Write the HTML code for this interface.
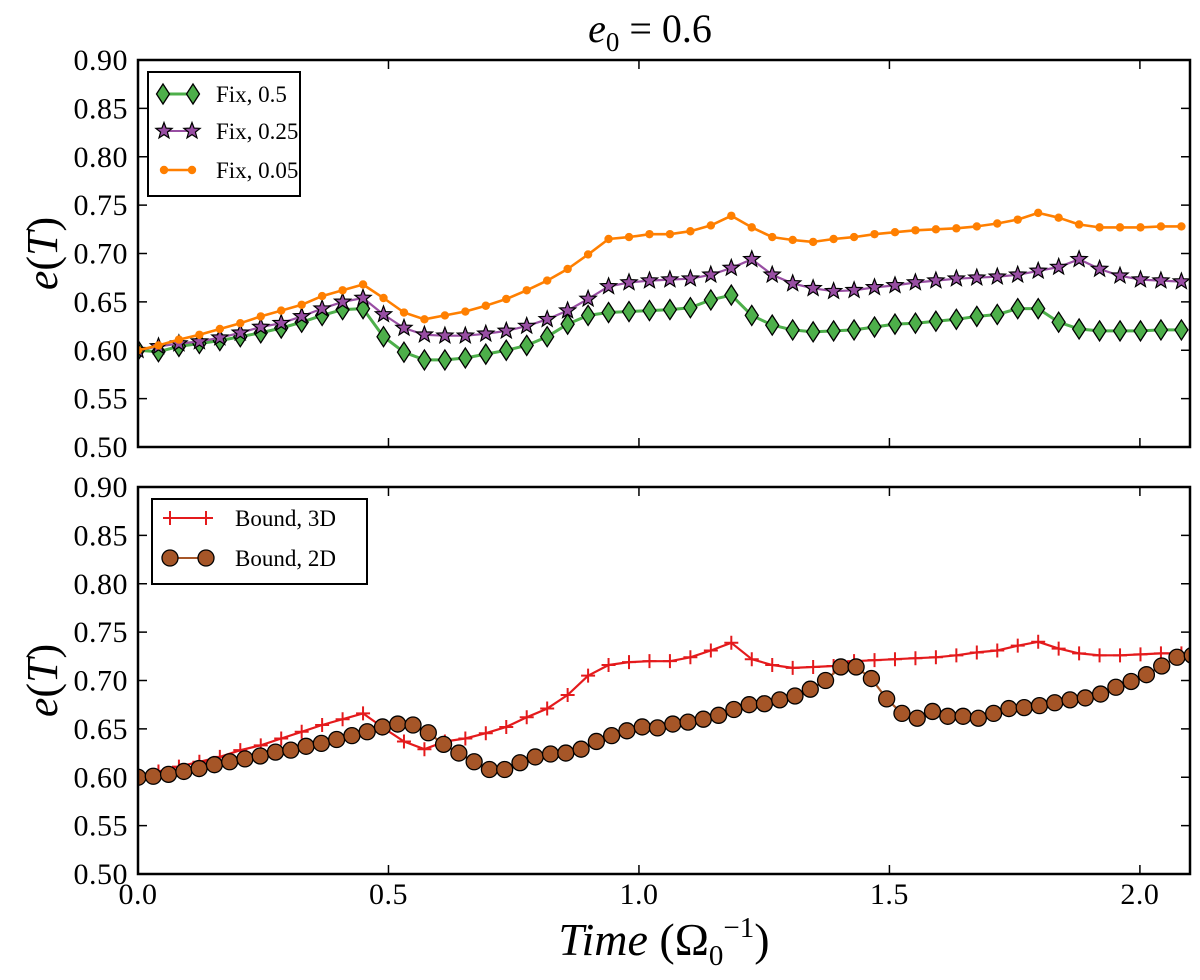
<!DOCTYPE html>
<html><head><meta charset="utf-8"><style>
html,body{margin:0;padding:0;background:#fff;}
svg{display:block;font-family:"Liberation Serif",serif;}
</style></head><body>
<svg id="chart" width="1200" height="980" viewBox="0 0 1200 980" xmlns="http://www.w3.org/2000/svg"></svg>
<script>
// ---- data ----
const dtTop = 0.04084;
const dtBound3D = 0.04084;
const dtBound2D = 0.0305;
const fix05 = [0.600,0.5985,0.604,0.607,0.610,0.614,0.618,0.623,0.629,0.636,0.642,0.643,0.614,0.598,0.590,0.590,0.592,0.596,0.600,0.605,0.614,0.627,0.636,0.639,0.640,0.641,0.642,0.644,0.652,0.657,0.636,0.626,0.621,0.619,0.620,0.621,0.624,0.627,0.628,0.630,0.632,0.635,0.637,0.643,0.643,0.629,0.622,0.620,0.620,0.620,0.621,0.621];
const fix025 = [0.600,0.604,0.607,0.609,0.613,0.618,0.624,0.628,0.635,0.643,0.650,0.654,0.637,0.623,0.616,0.615,0.615,0.617,0.620,0.625,0.632,0.641,0.653,0.666,0.670,0.672,0.673,0.674,0.678,0.685,0.694,0.678,0.669,0.664,0.661,0.662,0.665,0.667,0.670,0.672,0.674,0.675,0.676,0.678,0.682,0.686,0.694,0.684,0.677,0.673,0.672,0.671];
const fix005 = [0.600,0.605,0.611,0.616,0.622,0.628,0.635,0.641,0.647,0.656,0.662,0.668,0.654,0.639,0.632,0.636,0.640,0.646,0.653,0.662,0.672,0.684,0.699,0.715,0.717,0.720,0.720,0.723,0.729,0.739,0.727,0.717,0.714,0.712,0.715,0.717,0.720,0.722,0.724,0.725,0.726,0.728,0.731,0.735,0.742,0.737,0.730,0.727,0.727,0.727,0.728,0.728];
const bound3D = [0.601,0.606,0.611,0.616,0.621,0.628,0.633,0.640,0.647,0.654,0.660,0.666,0.651,0.637,0.629,0.637,0.640,0.6455,0.652,0.662,0.671,0.685,0.705,0.716,0.719,0.720,0.720,0.724,0.731,0.739,0.722,0.716,0.713,0.714,0.715,0.720,0.721,0.722,0.723,0.724,0.726,0.729,0.731,0.736,0.740,0.733,0.728,0.726,0.726,0.727,0.728,0.728];
const bound2D = [0.600,0.601,0.603,0.606,0.609,0.613,0.616,0.619,0.622,0.626,0.628,0.632,0.635,0.639,0.643,0.647,0.652,0.655,0.654,0.646,0.634,0.625,0.616,0.608,0.608,0.615,0.621,0.624,0.625,0.629,0.637,0.643,0.648,0.652,0.651,0.655,0.657,0.660,0.664,0.670,0.675,0.676,0.680,0.684,0.691,0.700,0.714,0.714,0.702,0.681,0.666,0.661,0.668,0.663,0.663,0.661,0.666,0.671,0.672,0.674,0.677,0.680,0.682,0.686,0.693,0.699,0.706,0.715,0.724,0.726];
const yTicks = ["0.50","0.55","0.60","0.65","0.70","0.75","0.80","0.85","0.90"];
const xTicks = ["0.0","0.5","1.0","1.5","2.0"];

// ---- layout ----
const NS = "http://www.w3.org/2000/svg";
const svg = document.getElementById("chart");
const X0 = 138, X1 = 1190, XMAX = 2.1;
const panels = [{top:60,bottom:447},{top:487,bottom:874}];
const xs = t => X0 + t/XMAX*(X1-X0);
const ysFor = p => v => p.bottom - (v-0.5)/0.4*(p.bottom-p.top);

function el(tag, attrs, parent){
  const e = document.createElementNS(NS, tag);
  for (const k in attrs) e.setAttribute(k, attrs[k]);
  (parent||svg).appendChild(e);
  return e;
}

const defs = el("defs",{});
panels.forEach((p,i)=>{
  const cp = el("clipPath",{id:"clip"+i},defs);
  el("rect",{x:X0,y:p.top,width:X1-X0,height:p.bottom-p.top},cp);
});

function starPath(cx,cy,R){
  const r=R*0.42; let d="";
  for(let k=0;k<10;k++){const a=-Math.PI/2+k*Math.PI/5;const rr=k%2?r:R;d+=(k?"L":"M")+(cx+rr*Math.cos(a)).toFixed(1)+","+(cy+rr*Math.sin(a)).toFixed(1);}
  return d+"Z";
}
function marker(g,type,cx,cy){
  let m;
  if(type==="diamond") m=el("path",{d:`M${cx},${cy-10}L${cx+6.5},${cy}L${cx},${cy+10}L${cx-6.5},${cy}Z`,fill:"#4daf4a",stroke:"#000","stroke-width":1.3},g);
  else if(type==="star") m=el("path",{d:starPath(cx,cy,8.5),fill:"#984ea3",stroke:"#000","stroke-width":1.2},g);
  else if(type==="dot") m=el("circle",{cx:cx,cy:cy,r:4.2,fill:"#ff7f00"},g);
  else if(type==="circle") m=el("circle",{cx:cx,cy:cy,r:8,fill:"#a65628",stroke:"#000","stroke-width":1.3},g);
  else if(type==="plus") m=el("path",{d:`M${cx-7},${cy}H${cx+7}M${cx},${cy-7}V${cy+7}`,stroke:"#e41a1c","stroke-width":2},g);
  return m;
}
function series(pi,name,vals,dt,color,lw,type){
  const p=panels[pi], ys=ysFor(p);
  const g=el("g",{"clip-path":`url(#clip${pi})`});
  
  
  const pts=vals.map((v,i)=>xs(i*dt).toFixed(1)+","+ys(v).toFixed(1)).join(" ");
  const line=el("polyline",{points:pts,fill:"none",stroke:color,"stroke-width":lw,"stroke-linejoin":"round"},g);
  
  
  vals.forEach((v,i)=>{
    const m=marker(g,type,xs(i*dt),ys(v));
    
    
  });
}

panels.forEach((p,pi)=>{
  const ys=ysFor(p);
  const ax=el("g",{});
  
  
  yTicks.forEach(t=>{
    const y=ys(parseFloat(t));
    el("line",{x1:X0,x2:X0+9,y1:y,y2:y,stroke:"#000","stroke-width":1.5},ax);
    el("line",{x1:X1-9,x2:X1,y1:y,y2:y,stroke:"#000","stroke-width":1.5},ax);
    const tx=el("text",{x:128,y:y+10,"text-anchor":"end","font-size":30,"letter-spacing":"0.5"},ax);
    tx.textContent=t;
    
    
  });
  xTicks.forEach(t=>{
    const x=xs(parseFloat(t));
    el("line",{x1:x,x2:x,y1:p.bottom,y2:p.bottom-9,stroke:"#000","stroke-width":1.5},ax);
    el("line",{x1:x,x2:x,y1:p.top,y2:p.top+9,stroke:"#000","stroke-width":1.5},ax);
    if(pi===1){
      const tx=el("text",{x:x,y:p.bottom+30,"text-anchor":"middle","font-size":30,"letter-spacing":"0.5"},ax);
      tx.textContent=t;
      
      
    }
  });
  const lab=el("text",{x:0,y:0,"font-size":44,"text-anchor":"middle",transform:`translate(57,${(p.top+p.bottom)/2}) rotate(-90)`},ax);
  lab.innerHTML='<tspan font-style="italic">e</tspan>(<tspan font-style="italic">T</tspan>)';
  
  
});

series(0,"fix-0.5",fix05,dtTop,"#4daf4a",3,"diamond");
series(0,"fix-0.25",fix025,dtTop,"#984ea3",2.2,"star");
series(0,"fix-0.05",fix005,dtTop,"#ff7f00",2.6,"dot");
series(1,"bound-3d",bound3D,dtBound3D,"#e41a1c",2.2,"plus");
series(1,"bound-2d",bound2D,dtBound2D,"#a65628",2.2,"circle");

panels.forEach(p=>{
  const f=el("rect",{x:X0,y:p.top,width:X1-X0,height:p.bottom-p.top,fill:"none",stroke:"#000","stroke-width":2.5});
  
  
});

function legend(name,x,y,w,h,entries,textX,rowY){
  const g=el("g",{});
  
  
  el("rect",{x:x,y:y,width:w,height:h,fill:"#fff",stroke:"#000","stroke-width":2},g);
  entries.forEach((e,i)=>{
    const cy=rowY[i];
    const eg=el("g",{},g);
    
    
    el("line",{x1:e.x1,x2:e.x2,y1:cy,y2:cy,stroke:e.color,"stroke-width":e.lw},eg);
    marker(eg,e.type,e.x1,cy); marker(eg,e.type,e.x2,cy);
    const t=el("text",{x:textX,y:cy+8,"font-size":23},eg);
    t.textContent=e.label;
  });
}
legend("top-legend",148,72,152,124,[
  {label:"Fix, 0.5",type:"diamond",color:"#4daf4a",lw:3,x1:163,x2:193},
  {label:"Fix, 0.25",type:"star",color:"#984ea3",lw:2,x1:164,x2:192},
  {label:"Fix, 0.05",type:"dot",color:"#ff7f00",lw:2.5,x1:164,x2:192}],216,[94,131,170]);
legend("bottom-legend",152,499,215,85,[
  {label:"Bound, 3D",type:"plus",color:"#e41a1c",lw:2,x1:170,x2:206},
  {label:"Bound, 2D",type:"circle",color:"#a65628",lw:2,x1:170,x2:206}],235,[518,558]);

const title=el("text",{x:650,y:42,"text-anchor":"middle","font-size":40});
title.innerHTML='<tspan font-style="italic">e</tspan><tspan font-size="27" dy="9">0</tspan><tspan dy="-9"> = 0.6</tspan>';


const xl=el("text",{x:664,y:955,"text-anchor":"middle","font-size":46});
xl.innerHTML='<tspan font-style="italic">Time</tspan> (Ω<tspan font-size="29" dy="10">0</tspan><tspan font-size="29" dy="-28">−1</tspan><tspan dy="18">)</tspan>';


</script>
</body></html>
